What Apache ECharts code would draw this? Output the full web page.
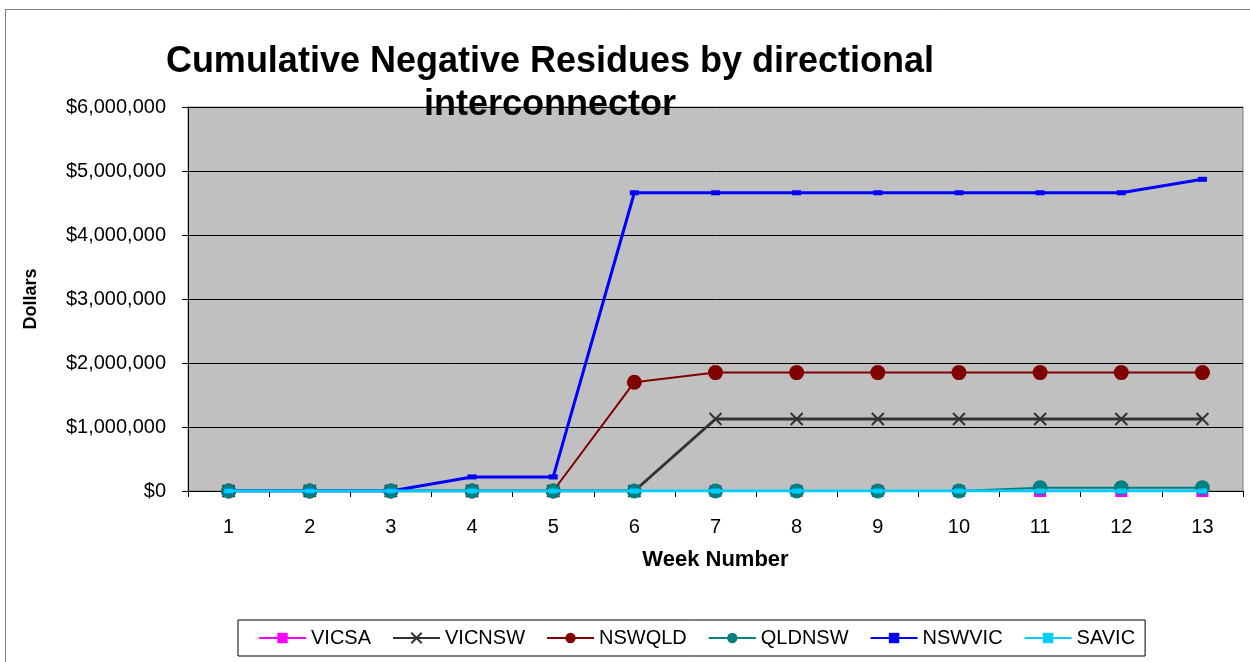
<!DOCTYPE html>
<html>
<head>
<meta charset="utf-8">
<script src="https://cdn.jsdelivr.net/npm/echarts@6/dist/echarts.min.js"></script>
<style>
  html, body { margin: 0; padding: 0; background: #fff; }
  #chart { width: 1250px; height: 662px; }
</style>
</head>
<body>
<div id="chart"></div>
<script>
// week numbers
const weeks = ['1', '2', '3', '4', '5', '6', '7', '8', '9', '10', '11', '12', '13'];

// cumulative negative residues ($)
const vicsa  = [0, 0, 0, 0, 0, 0, 0, 0, 0, 0, 0, 0, 0];
const vicnsw = [0, 0, 0, 0, 0, 0, 1125000, 1125000, 1125000, 1125000, 1125000, 1125000, 1125000];
const nswqld = [0, 0, 0, 0, 0, 1700000, 1850000, 1850000, 1850000, 1850000, 1850000, 1850000, 1850000];
const qldnsw = [0, 0, 0, 0, 0, 0, 0, 0, 0, 0, 50000, 50000, 50000];
const nswvic = [0, 0, 0, 220000, 220000, 4660000, 4660000, 4660000, 4660000, 4660000, 4660000, 4660000, 4870000];
const savic  = [0, 0, 0, 0, 0, 0, 0, 0, 0, 0, 0, 0, 0];

const font = 'Arial, "Liberation Sans", sans-serif';
const cross = 'path://M0,0L10,10M10,0L0,10';

function fmt(v) {
  return '$' + v.toLocaleString('en-US');
}

function line(name, data, color, symbol, size, width, extra) {
  return Object.assign({
    name: name,
    type: 'line',
    data: data,
    symbol: symbol,
    symbolSize: size,
    showAllSymbol: true,
    lineStyle: { color: color, width: width },
    itemStyle: { color: color },
    animation: false
  }, extra || {});
}

const chart = echarts.init(document.getElementById('chart'));

chart.setOption({
  backgroundColor: '#fff',
  title: {
    text: 'Cumulative Negative Residues by directional\ninterconnector',
    left: 545,
    top: 36,
    textAlign: 'center',
    textStyle: { fontFamily: font, fontSize: 36, fontWeight: 'bold', color: '#000', lineHeight: 43, align: 'center' }
  },
  graphic: [{
    type: 'rect',
    shape: { x: 5.5, y: 9.5, width: 1260, height: 680 },
    style: { fill: 'none', stroke: '#808080', lineWidth: 1 },
    silent: true
  }],
  legend: {
    bottom: 6,
    left: 238,
    padding: [8, 10, 8, 20],
    itemGap: 21,
    itemWidth: 47,
    itemHeight: 13,
    borderColor: '#000',
    borderWidth: 1,
    backgroundColor: '#fff',
    textStyle: { fontFamily: font, fontSize: 20, color: '#000' },
    data: ['VICSA', 'VICNSW', 'NSWQLD', 'QLDNSW', 'NSWVIC', 'SAVIC']
  },
  grid: {
    left: 188,
    right: 7,
    top: 107,
    bottom: 171,
    show: true,
    backgroundColor: '#C0C0C0',
    borderColor: '#808080',
    borderWidth: 1
  },
  xAxis: {
    type: 'category',
    data: weeks,
    boundaryGap: true,
    name: 'Week Number',
    nameLocation: 'middle',
    nameGap: 58,
    nameTextStyle: { fontFamily: font, fontSize: 22, fontWeight: 'bold', color: '#000' },
    axisLine: { lineStyle: { color: '#000', width: 1 } },
    axisTick: { show: true, length: 6, lineStyle: { color: '#000' } },
    axisLabel: { fontFamily: font, fontSize: 20, color: '#000', margin: 26 }
  },
  yAxis: {
    type: 'value',
    min: 0,
    max: 6000000,
    interval: 1000000,
    name: 'Dollars',
    nameLocation: 'middle',
    nameGap: 148,
    nameTextStyle: { fontFamily: font, fontSize: 18, fontWeight: 'bold', color: '#000' },
    axisLine: { show: true, lineStyle: { color: '#000', width: 1 } },
    axisTick: { show: true, length: 6, lineStyle: { color: '#000' } },
    axisLabel: { fontFamily: font, fontSize: 20, color: '#000', margin: 22, formatter: fmt },
    splitLine: { lineStyle: { color: '#000', width: 1 } }
  },
  series: [
    line('VICSA', vicsa, '#FF00FF', 'rect', 12, 2),
    line('VICNSW', vicnsw, '#333333', cross, 12, 3, {
      itemStyle: { color: '#333333', borderColor: '#333333', borderWidth: 2 }
    }),
    line('NSWQLD', nswqld, '#800000', 'circle', 15, 2),
    line('QLDNSW', qldnsw, '#008080', 'circle', 15, 2),
    line('NSWVIC', nswvic, '#0000FF', 'rect', [9, 5], 3),
    line('SAVIC', savic, '#00CCFF', 'rect', [9, 5], 3, { z: 5 })
  ]
});
</script>
</body>
</html>
